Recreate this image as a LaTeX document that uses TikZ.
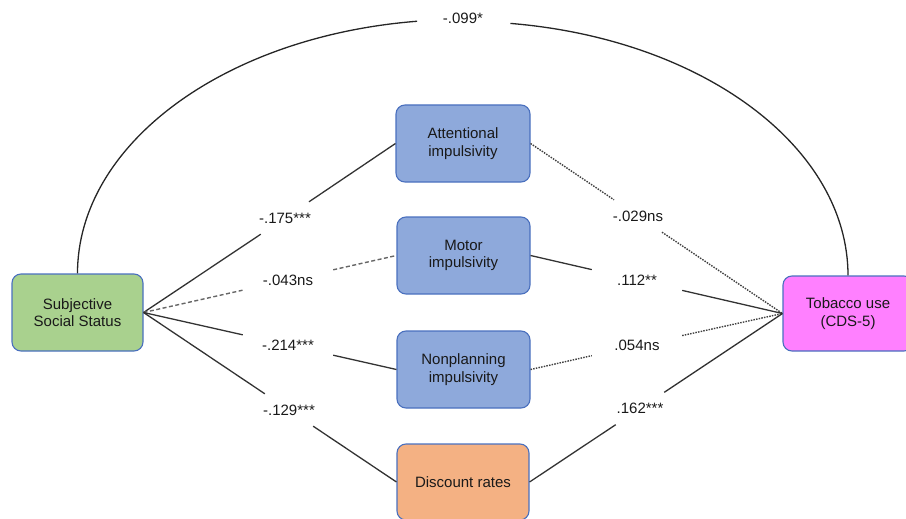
\documentclass[tikz,border=0pt]{standalone}
\usepackage{fontspec}
\setmainfont{Liberation Sans}
\begin{document}
\begin{tikzpicture}[x=1pt,y=-1pt,
  box/.style={draw=boxborder, line width=1.1pt, rounded corners=9pt, align=center,
    font=\fontsize{15}{17.5}\selectfont, text=black!90, inner sep=0pt},
  coef/.style={font=\fontsize{15}{17.5}\selectfont, text=black!90, minimum width=90pt, minimum height=32pt, inner sep=0pt},
  sline/.style={draw=black!80, line width=1.3pt},
  dline/.style={draw=black!60, line width=1.4pt, dash pattern=on 4pt off 2.5pt},
  tline/.style={draw=black!75, line width=1.4pt, dash pattern=on 1.5pt off 1.2pt},
]
\definecolor{boxborder}{HTML}{4A70BE}
\definecolor{bluefill}{HTML}{8EA9DB}
\definecolor{greenfill}{HTML}{A9D18E}
\definecolor{orangefill}{HTML}{F4B183}
\definecolor{pinkfill}{HTML}{FF80FF}
\useasboundingbox (0,0) rectangle (906,519);

\node[box, fill=greenfill, minimum width=131pt, minimum height=77pt] (sss) at (77.5,312.5) {Subjective\\Social Status};
\node[box, fill=bluefill, minimum width=134pt, minimum height=77pt] (att) at (463,143.5) {Attentional\\impulsivity};
\node[box, fill=bluefill, minimum width=133pt, minimum height=77pt] (mot) at (463.5,255.5) {Motor\\impulsivity};
\node[box, fill=bluefill, minimum width=133pt, minimum height=77pt] (non) at (463.5,369.5) {Nonplanning\\impulsivity};
\node[box, fill=orangefill, minimum width=132pt, minimum height=76pt] (dis) at (463,482) {Discount rates};
\node[box, fill=pinkfill, minimum width=130pt, minimum height=75pt] (tob) at (848,313.5) {Tobacco use\\(CDS-5)};

\node[coef] (c1) at (285,218) {-.175***};
\node[coef] (c2) at (288,280) {-.043ns};
\node[coef] (c3) at (288,345) {-.214***};
\node[coef] (c4) at (289,410) {-.129***};
\node[coef] (c5) at (638,216) {-.029ns};
\node[coef] (c6) at (637,280) {.112**};
\node[coef] (c7) at (637,345.5) {.054ns};
\node[coef] (c8) at (640,408.5) {.162***};
\node[font=\fontsize{15}{17.5}\selectfont, text=black!90] (c0) at (463,18) {-.099*};

\draw[sline] (sss.east) -- (c1) -- (att.west);
\draw[dline] (sss.east) -- (c2) -- (mot.west);
\draw[sline] (sss.east) -- (c3) -- (non.west);
\draw[sline] (sss.east) -- (c4) -- (dis.west);
\draw[tline] (att.east) -- (c5) -- (tob.west);
\draw[sline] (mot.east) -- (c6) -- (tob.west);
\draw[tline] (non.east) -- (c7) -- (tob.west);
\draw[sline] (dis.east) -- (c8) -- (tob.west);

\draw[draw=black!85, line width=1.3pt] (sss.north) arc[start angle=180, end angle=96.8, x radius=385.25pt, y radius=254pt];
\draw[draw=black!85, line width=1.3pt] (tob.north) arc[start angle=0, end angle=82.9, x radius=385.25pt, y radius=254pt];
\end{tikzpicture}
\end{document}
